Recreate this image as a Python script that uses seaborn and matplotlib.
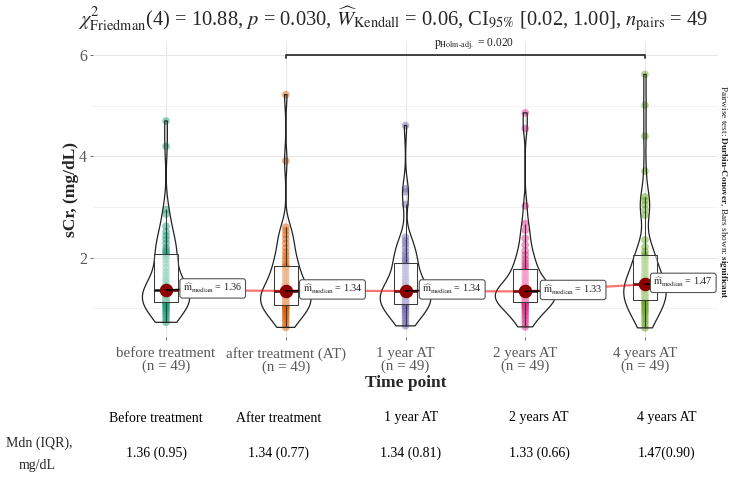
import numpy as np
import pandas as pd
import matplotlib
matplotlib.use("Agg")
import matplotlib.pyplot as plt
import seaborn as sns

# ---------------- data ----------------
time_points = ["before treatment", "after treatment (AT)", "1 year AT", "2 years AT", "4 years AT"]

before_treatment = [0.72, 0.78, 0.83, 0.88, 0.92, 0.96, 0.99, 1.02, 1.05, 1.08, 1.10, 1.12,
                    1.13,
                    1.15, 1.17, 1.19, 1.21, 1.24, 1.26, 1.28, 1.30, 1.32, 1.34, 1.35,
                    1.36,
                    1.39, 1.43, 1.47, 1.52, 1.58, 1.65, 1.72, 1.80, 1.88, 1.96, 2.03,
                    2.08,
                    2.11, 2.15, 2.20, 2.28, 2.36, 2.43, 2.51, 2.62, 2.86, 2.95, 4.20, 4.70]
after_treatment = [0.62, 0.68, 0.74, 0.79, 0.83, 0.87, 0.91, 0.95, 0.98, 1.01, 1.03, 1.05,
                   1.07,
                   1.09, 1.11, 1.14, 1.16, 1.19, 1.21, 1.24, 1.26, 1.28, 1.30, 1.32,
                   1.34,
                   1.37, 1.40, 1.44, 1.48, 1.52, 1.57, 1.62, 1.67, 1.72, 1.77, 1.81,
                   1.84,
                   1.90, 1.97, 2.04, 2.11, 2.19, 2.28, 2.37, 2.45, 2.53, 2.60, 3.91, 5.22]
one_year_at = [0.65, 0.70, 0.75, 0.80, 0.85, 0.89, 0.93, 0.97, 1.00, 1.03, 1.05, 1.07,
               1.09,
               1.11, 1.13, 1.15, 1.18, 1.20, 1.23, 1.25, 1.27, 1.29, 1.31, 1.33,
               1.34,
               1.36, 1.39, 1.43, 1.47, 1.52, 1.57, 1.62, 1.68, 1.74, 1.80, 1.85,
               1.90,
               1.95, 2.00, 2.06, 2.12, 2.20, 2.27, 2.33, 2.40, 3.05, 3.30, 3.36, 4.61]
two_years_at = [0.63, 0.70, 0.76, 0.82, 0.87, 0.92, 0.96, 1.00, 1.03, 1.06, 1.08, 1.10,
                1.12,
                1.14, 1.16, 1.18, 1.20, 1.22, 1.24, 1.26, 1.28, 1.30, 1.31, 1.32,
                1.33,
                1.35, 1.37, 1.40, 1.43, 1.46, 1.50, 1.54, 1.58, 1.63, 1.68, 1.73,
                1.78,
                1.84, 1.90, 1.97, 2.05, 2.13, 2.25, 2.38, 2.54, 2.67, 3.02, 4.55, 4.86]
four_years_at = [0.61, 0.68, 0.74, 0.80, 0.86, 0.91, 0.95, 0.99, 1.03, 1.07, 1.10, 1.13,
                 1.16,
                 1.19, 1.22, 1.25, 1.28, 1.31, 1.34, 1.37, 1.40, 1.42, 1.44, 1.46,
                 1.47,
                 1.50, 1.54, 1.58, 1.63, 1.68, 1.74, 1.80, 1.86, 1.92, 1.97, 2.02,
                 2.06,
                 2.12, 2.21, 2.35, 2.84, 2.95, 3.05, 3.13, 3.20, 3.71, 4.40, 5.01, 5.62]

series = [before_treatment, after_treatment, one_year_at, two_years_at, four_years_at]

table_headers = ["Before treatment", "After treatment", "1 year AT", "2 years AT", "4 years AT"]
table_values = ["1.36 (0.95)", "1.34 (0.77)", "1.34 (0.81)", "1.33 (0.66)", "1.47(0.90)"]

pairwise_groups = ("after treatment (AT)", "4 years AT")
pairwise_p = "0.020"
pairwise_bar_y = 6.0

palette = ["#1B9E77", "#D95F02", "#7570B3", "#E7298A", "#66A61E"]

# ---------------- style ----------------
sns.set_theme(style="white")
plt.rcParams["font.family"] = ["Liberation Serif", "DejaVu Serif"]
plt.rcParams["mathtext.fontset"] = "stix"

df = pd.DataFrame({
    "time": np.repeat(time_points, [len(s) for s in series]),
    "sCr": np.concatenate(series),
})


def nrd0(kde):
    x = np.asarray(kde.dataset).ravel()
    sd = np.std(x, ddof=1)
    q75, q25 = np.percentile(x, [75, 25])
    h = 0.9 * min(sd, (q75 - q25) / 1.34) * len(x) ** -0.2
    return h / sd


fig = plt.figure(figsize=(7.39, 4.78), dpi=100)
ax = fig.add_axes([93 / 739, 1 - 337 / 478, (718 - 93) / 739, (337 - 42) / 478])

# points
sns.stripplot(data=df, x="time", y="sCr", hue="time", order=time_points, hue_order=time_points,
              palette=palette, jitter=False, size=5.5, alpha=0.5, linewidth=0,
              legend=False, ax=ax, zorder=0.8)

# boxes
sns.boxplot(data=df, x="time", y="sCr", order=time_points, width=0.2, whis=1.5,
            showfliers=False, color="white", linecolor="#3a3a3a", linewidth=0.75,
            boxprops=dict(facecolor=(1, 1, 1, 0.5)),
            medianprops=dict(color="#111111", linewidth=1.8),
            capprops=dict(linewidth=0), ax=ax)

# violins
sns.violinplot(data=df, x="time", y="sCr", order=time_points, fill=False, color="#222222",
               linewidth=0.9, width=0.5, cut=0, density_norm="area", inner=None,
               bw_method=nrd0, ax=ax)

# centrality path and points
medians = df.groupby("time")["sCr"].median().reindex(time_points).values
xpos = np.arange(len(time_points))
ax.plot(xpos, medians, color="red", alpha=0.55, lw=1.6, zorder=3, solid_capstyle="butt")
ax.scatter(xpos, medians, s=95, color="#8B0000", zorder=5, linewidths=0)

label_dx = [0.39, 0.39, 0.39, 0.40, 0.32]
for i, m in enumerate(medians):
    ax.annotate(r"$\widehat{\mathrm{m}}_{\mathrm{median}}$" + f" = {m:.2f}",
                xy=(i, m), xytext=(i + label_dx[i], m + 0.03), ha="center", va="center",
                fontsize=7.3, color="#222222", zorder=6,
                bbox=dict(boxstyle="round,pad=0.3,rounding_size=0.25", fc="white",
                          ec="#555555", lw=0.8),
                arrowprops=dict(arrowstyle="-", color="black", lw=1.1,
                                shrinkA=0, shrinkB=0))

# pairwise bar
i1 = time_points.index(pairwise_groups[0])
i2 = time_points.index(pairwise_groups[1])
tick = 0.06
ax.plot([i1, i1, i2, i2], [pairwise_bar_y - tick, pairwise_bar_y, pairwise_bar_y, pairwise_bar_y - tick],
        color="#333333", lw=1.3, zorder=4, clip_on=False)
ax.annotate(r"$\mathrm{p}_{\mathrm{Holm\text{-}adj.}}$ = " + pairwise_p,
            xy=((i1 + i2) / 2, pairwise_bar_y), xytext=(6, 2.5), textcoords="offset points",
            ha="center", va="bottom", fontsize=8.3, color="#222222")

# axes styling
ax.set_xlim(-0.61, 4.61)
ax.set_ylim(0.43, 6.26)
ax.set_yticks([2, 4, 6])
ax.set_yticks([1, 3, 5], minor=True)
ax.set_yticklabels(["2", "4", "6"])
ax.set_xticks(xpos)
ax.set_xticklabels([f"{t}\n(n = {len(s)})" for t, s in zip(time_points, series)], linespacing=0.95)
ax.grid(True, which="major", axis="both", color="#E6E6E6", lw=0.7)
ax.grid(True, which="minor", axis="y", color="#F0F0F0", lw=0.6)
ax.set_axisbelow(True)
for sp in ax.spines.values():
    sp.set_visible(False)
ax.tick_params(axis="both", which="major", length=2.5, width=0.6, color="#555555",
               labelcolor="#595959", labelsize=10.8, bottom=True, left=True)
ax.tick_params(axis="x", which="major", pad=5)
ax.tick_params(axis="y", which="major", pad=2, labelsize=11.5)
ax.tick_params(axis="both", which="minor", length=0)
ax.set_xlabel("Time point", fontsize=12.5, fontweight="bold", labelpad=0.5)
ax.set_ylabel("sCr, (mg/dL)", fontsize=12.5, fontweight="bold", labelpad=0)

# title
fig.text(393 / 739, 1 - 19 / 478,
         r"$\chi^2_{\mathrm{Friedman}}$(4) = 10.88, $\mathit{p}$ = 0.030, "
         r"$\widehat{W}_{\mathrm{Kendall}}$ = 0.06, CI$_{95\%}$ [0.02, 1.00], "
         r"$\mathit{n}_{\mathrm{pairs}}$ = 49",
         ha="center", va="center", fontsize=14.8)

# caption
fig.text(723 / 739, 1 - 192 / 478,
         r"Pairwise test: $\mathbf{Durbin}$-$\mathbf{Conover}$, Bars shown: $\mathbf{significant}$",
         rotation=270, ha="center", va="center", fontsize=6.7, color="#222222")

# table below
header_x = [156, 279, 411, 539, 667]
for hx, h, v in zip(header_x, table_headers, table_values):
    fig.text(hx / 739, 1 - 418 / 478, h, ha="center", va="center", fontsize=10, color="black")
    fig.text(hx / 739, 1 - 453 / 478, v, ha="center", va="center", fontsize=10, color="black")
fig.text(39 / 739, 1 - 443 / 478, "Mdn (IQR),", ha="center", va="center", fontsize=10)
fig.text(37 / 739, 1 - 465 / 478, "mg/dL", ha="center", va="center", fontsize=10)

fig.savefig("out.png", dpi=100, facecolor="white")
